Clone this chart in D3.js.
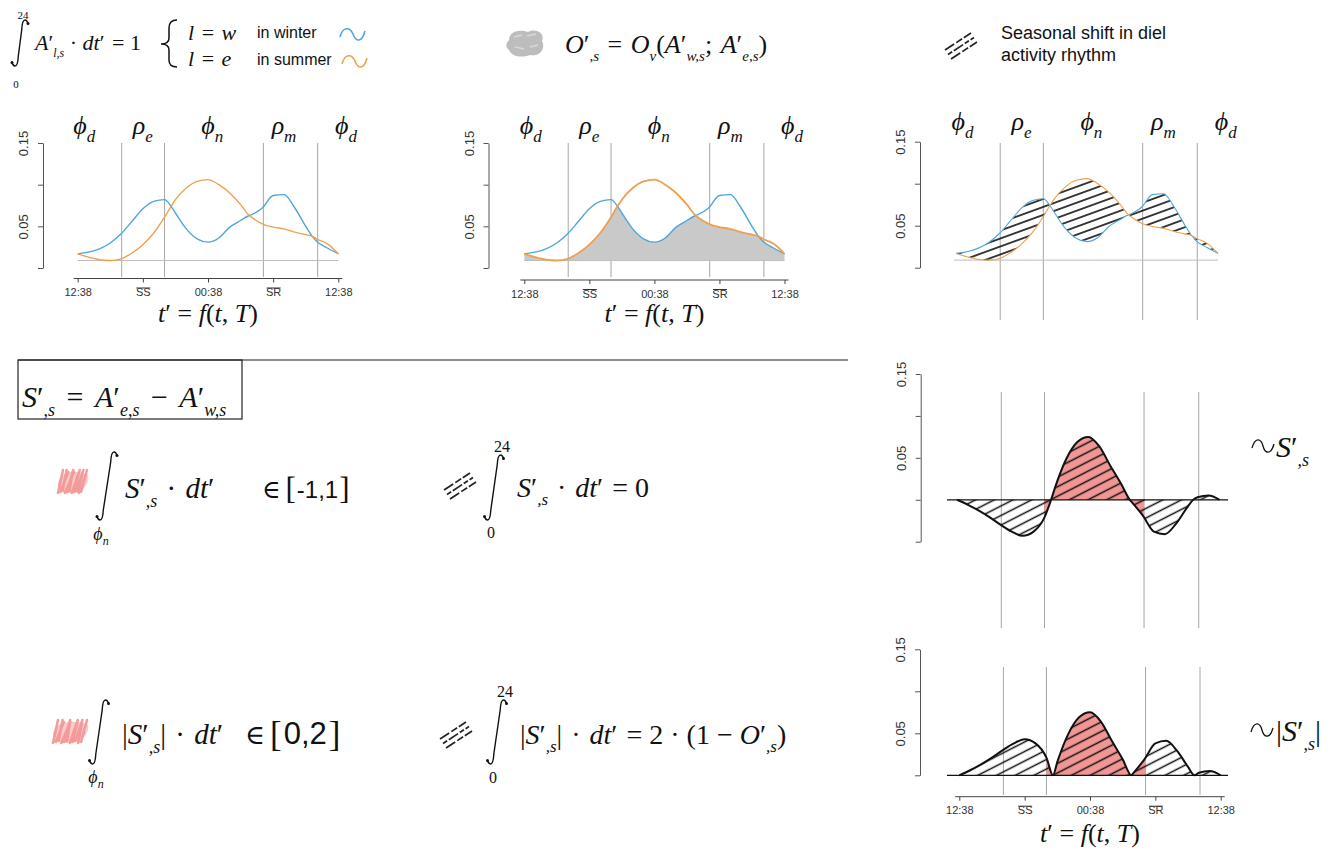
<!DOCTYPE html>
<html><head><meta charset="utf-8">
<script src="https://cdn.jsdelivr.net/npm/d3@7"></script>
<style>
html,body{margin:0;padding:0;background:#fff;}
svg{display:block;}
.math{font-family:"Liberation Serif","DejaVu Serif",serif;}
.sans{font-family:"Liberation Sans",Arial,sans-serif;}
</style></head><body>
<svg id="fig" width="1341" height="854"></svg>
<script>
// ---------------- data ----------------
const hours  = [0,1,2,3,4,5,6,7,8,8.6,9,10,11,12,13,14,15,15.8,16,17,18,19,20,21,21.6,22,23,24];
const winter = [.017,.019,.023,.030,.041,.056,.071,.080,.082,.074,.066,.047,.035,.031,.036,.049,.057,.063,.064,.072,.087,.088,.072,.050,.038,.032,.024,.017];
const summer = [.017,.013,.010,.009,.011,.018,.028,.042,.061,.074,.082,.096,.104,.106,.100,.090,.076,.063,.061,.053,.049,.047,.043,.040,.038,.035,.029,.017];
const floorLevel = 0.009;
const phaseBounds = [4.05, 8.0, 17.1, 22.1];
const phaseGlyphs = ['ϕ','ρ','ϕ','ρ','ϕ'];
const phaseSubs   = ['d','e','n','m','d'];
const phaseLabelHours = [0.6, 6.0, 12.4, 19.0, 24.7];
const xTickHours  = [0, 6, 12, 18, 24];
const xTickLabels = ['12:38','SS','00:38','SR','12:38'];
const xTickOverline = [false, true, false, true, false];
const yTicksPos   = [0, 0.05, 0.10, 0.15];
const yTicksS     = [-0.05, 0, 0.05, 0.10, 0.15];
const yLabelled   = [0.05, 0.15];

const BLUE = '#4ea6dc', ORANGE = '#efa04e', RED = '#f29595', GREY = '#c9c9c9';

const svg = d3.select('#fig');
const defs = svg.append('defs');
function hatchPattern(id, size, angle, sw) {
  const p = defs.append('pattern').attr('id', id).attr('patternUnits','userSpaceOnUse')
    .attr('width', size).attr('height', size).attr('patternTransform', `rotate(${angle})`);
  p.append('line').attr('x1',-1).attr('x2',size+1).attr('y1',size/2).attr('y2',size/2)
    .attr('stroke','#111').attr('stroke-width', sw);
}
hatchPattern('hatchTop', 7.5, -20, 1.6);
hatchPattern('hatchS', 8.5, -27, 1.5);

const pts = hours.map((h,i)=>({h, w: winter[i], s: summer[i]}));

// ---------------- math text helper ----------------
function mathText(parent, x, y, size, parts, anchor) {
  const t = parent.append('text').attr('x',x).attr('y',y).attr('class','math')
    .attr('font-size',size).attr('text-anchor', anchor||'start').attr('fill','#111');
  let cur = 0;
  parts.forEach(p => {
    let shift = 0, fs = size;
    if (p.sub) { shift = size*0.3; fs = size*0.62; }
    if (p.sup) { shift = -size*0.42; fs = size*0.62; }
    if (p.fs) fs = p.fs;
    if (p.shift !== undefined) shift = p.shift;
    const ts = t.append('tspan').text(p.t).attr('font-size', fs).attr('dy', shift-cur)
      .attr('font-style', p.i ? 'italic' : 'normal');
    if (p.dx !== undefined) ts.attr('dx', p.dx);
    if (p.sans) ts.attr('font-family','"Liberation Sans",Arial,sans-serif');
    cur = shift;
  });
  return t;
}
function integral(g, cx, top, bottom, slant) {
  const s = slant / 2;
  const p = d3.path();
  p.moveTo(cx + s + 6, top + 3.5);
  p.quadraticCurveTo(cx + s + 5, top, cx + s + 3, top);
  p.bezierCurveTo(cx + s + 0.5, top, cx + s, top + 4, cx + s - 0.3, top + 10);
  p.lineTo(cx - s + 0.3, bottom - 10);
  p.bezierCurveTo(cx - s, bottom - 4, cx - s - 0.5, bottom, cx - s - 3, bottom);
  p.quadraticCurveTo(cx - s - 5, bottom, cx - s - 6, bottom - 3.5);
  g.append('path').attr('d', p.toString()).attr('fill','none').attr('stroke','#111').attr('stroke-width',1.4);
  g.append('circle').attr('cx', cx + s + 6).attr('cy', top + 3.5).attr('r',1.5).attr('fill','#111');
  g.append('circle').attr('cx', cx - s - 6).attr('cy', bottom - 3.5).attr('r',1.5).attr('fill','#111');
}
function plain(g, x, y, txt, size) {
  g.append('text').attr('class','math').attr('x',x).attr('y',y).attr('font-size',size)
    .attr('text-anchor','middle').attr('fill','#111').text(txt);
}
function hatchIcon(g, x, y) {
  [0, 1, 2].forEach(i => {
    const ox = x + i * 3, oy = y + i * 4.5;
    g.append('line').attr('x1', ox).attr('y1', oy + 17).attr('x2', ox + 26).attr('y2', oy)
      .attr('stroke','#222').attr('stroke-width',1.7).attr('stroke-dasharray', i === 1 ? '5,2,11,2' : '11,2.5,7,2');
  });
}
const scribbleSlants = [5, 8, 4, 9, 6, 3, 8, 5, 7, 4, 6];
function scribble(g, x, y, w, h, color) {
  g.append('path').attr('d', `M${x+2},${y+h*0.45} C${x+w*0.2},${y-1} ${x+w*0.7},${y+1} ${x+w},${y+h*0.2}
      C${x+w+2},${y+h*0.6} ${x+w*0.8},${y+h+1} ${x+w*0.45},${y+h} C${x+w*0.15},${y+h+1} ${x-2},${y+h*0.8} ${x+2},${y+h*0.45} Z`)
    .attr('fill', color).attr('opacity', 0.5);
  const p = d3.path();
  const n = scribbleSlants.length;
  for (let i = 0; i < n; i++) {
    const xx = x + 1 + i * (w - 8) / (n - 1);
    p.moveTo(xx, y + h - (i % 3));
    p.lineTo(xx + scribbleSlants[i], y + (i % 2) * 2);
  }
  g.append('path').attr('d', p.toString()).attr('fill','none').attr('stroke', color)
    .attr('stroke-width', 2.6).attr('stroke-linecap','round').attr('opacity',0.9);
}
function tilde(g, x, y) {
  g.append('path').attr('d', `M${x},${y+2} C${x+3},${y-9} ${x+9},${y-8} ${x+11},${y} C${x+13},${y+8} ${x+19},${y+9} ${x+22},${y-2}`)
    .attr('fill','none').attr('stroke','#111').attr('stroke-width',1.3);
}

// ---------------- panel helper ----------------
function makePanel(o) {
  const g = svg.append('g');
  const x = d3.scaleLinear().domain([0,24]).range([o.x0, o.x1]);
  const y = d3.scaleLinear().domain(o.yDomain).range([o.yB, o.yT]);
  const ya = g.append('g').attr('transform', `translate(${o.yAxisX},0)`)
    .call(d3.axisLeft(y).tickValues(o.yTicks).tickSize(5).tickSizeOuter(0)
      .tickFormat(d => yLabelled.some(v => Math.abs(v-d) < 1e-9) ? d3.format('.2f')(d) : ''));
  ya.attr('font-family','"Liberation Sans",Arial,sans-serif').attr('font-size',13);
  ya.select('.domain').attr('stroke','#555');
  ya.selectAll('.tick line').attr('stroke','#555');
  ya.selectAll('.tick text').attr('transform','rotate(-90)').attr('x',0).attr('y',-15)
    .attr('dy',0).attr('text-anchor','middle').attr('fill','#333');
  g.selectAll('line.phase').data(phaseBounds).join('line').attr('class','phase')
    .attr('x1', d => x(d)).attr('x2', d => x(d)).attr('y1', o.vTop).attr('y2', o.vBottom)
    .attr('stroke','#a6a6a6').attr('stroke-width',1);
  if (o.phaseY) {
    phaseGlyphs.forEach((gl, i) => {
      mathText(g, x(phaseLabelHours[i]), o.phaseY, 26, [{t: gl, i:1}, {t: phaseSubs[i], i:1, sub:1, fs: 17}], 'middle');
    });
  }
  if (o.xAxisY) {
    const xa = g.append('g').attr('transform', `translate(0,${o.xAxisY})`)
      .call(d3.axisBottom(x).tickValues(xTickHours).tickSize(4).tickFormat((d,i) => xTickLabels[i]));
    xa.attr('font-family','"Liberation Sans",Arial,sans-serif').attr('font-size',11);
    xa.select('.domain').remove();
    xa.selectAll('.tick line').attr('stroke','#444');
    xa.selectAll('.tick text').attr('y', 10).attr('fill','#333');
    xa.selectAll('.tick').each(function(d, i) {
      if (xTickOverline[i]) d3.select(this).append('line').attr('x1',-7).attr('x2',7).attr('y1',9.5).attr('y2',9.5)
        .attr('stroke','#333').attr('stroke-width',1);
    });
    g.append('line').attr('x1', x(0)-4).attr('x2', x(24)+4).attr('y1', o.xAxisY).attr('y2', o.xAxisY)
      .attr('stroke','#444').attr('stroke-width',1);
    mathText(g, x(12), o.titleY, 26, [{t:'t',i:1},{t:'′'},{t:' = '},{t:'f',i:1},{t:'('},{t:'t',i:1},{t:', '},{t:'T',i:1},{t:')'}], 'middle');
  }
  return {g, x, y};
}

const lineOf = (x, y, key) => d3.line().x(d => x(d.h)).y(d => y(d[key])).curve(d3.curveMonotoneX);

// ---------- Panel A: top-left ----------
{
  const P = makePanel({x0:77.7, x1:338.3, yDomain:[0,0.15], yB:268, yT:143, yAxisX:43, yTicks:yTicksPos,
    vTop:143, vBottom:277, phaseY:134, xAxisY:278.5, titleY:322});
  P.g.append('line').attr('x1',P.x(0)).attr('x2',P.x(24)).attr('y1',P.y(floorLevel)).attr('y2',P.y(floorLevel))
    .attr('stroke','#bdbdbd').attr('stroke-width',1);
  P.g.append('path').datum(pts).attr('d', lineOf(P.x,P.y,'w')).attr('fill','none').attr('stroke',BLUE).attr('stroke-width',1.4);
  P.g.append('path').datum(pts).attr('d', lineOf(P.x,P.y,'s')).attr('fill','none').attr('stroke',ORANGE).attr('stroke-width',1.4);
}
// ---------- Panel B: top-middle (overlap) ----------
{
  const P = makePanel({x0:524.3, x1:784.5, yDomain:[0,0.15], yB:268, yT:143, yAxisX:488.5, yTicks:yTicksPos,
    vTop:143, vBottom:277, phaseY:134, xAxisY:280, titleY:322});
  const area = d3.area().x(d => P.x(d.h)).y0(P.y(floorLevel)).y1(d => P.y(Math.min(d.w, d.s))).curve(d3.curveMonotoneX);
  P.g.append('path').datum(pts).attr('d', area).attr('fill', GREY);
  P.g.append('line').attr('x1',P.x(0)).attr('x2',P.x(24)).attr('y1',P.y(floorLevel)).attr('y2',P.y(floorLevel))
    .attr('stroke','#bdbdbd').attr('stroke-width',1);
  P.g.append('path').datum(pts).attr('d', lineOf(P.x,P.y,'w')).attr('fill','none').attr('stroke',BLUE).attr('stroke-width',1.4);
  P.g.append('path').datum(pts).attr('d', lineOf(P.x,P.y,'s')).attr('fill','none').attr('stroke',ORANGE).attr('stroke-width',1.8);
}
// ---------- Panel C: top-right (shift hatch) ----------
{
  const P = makePanel({x0:956, x1:1218, yDomain:[0,0.15], yB:267.7, yT:141.7, yAxisX:920, yTicks:yTicksPos,
    vTop:143, vBottom:320, phaseY:130});
  P.g.append('line').attr('x1',P.x(0)-2).attr('x2',P.x(24)).attr('y1',P.y(floorLevel)).attr('y2',P.y(floorLevel))
    .attr('stroke','#bdbdbd').attr('stroke-width',1);
  const area = d3.area().x(d => P.x(d.h)).y0(d => P.y(d.w)).y1(d => P.y(d.s)).curve(d3.curveMonotoneX);
  P.g.append('path').datum(pts).attr('d', area).attr('fill','url(#hatchTop)');
  P.g.append('path').datum(pts).attr('d', lineOf(P.x,P.y,'w')).attr('fill','none').attr('stroke',BLUE).attr('stroke-width',1.1);
  P.g.append('path').datum(pts).attr('d', lineOf(P.x,P.y,'s')).attr('fill','none').attr('stroke',ORANGE).attr('stroke-width',1.1);
}
// ---------- Panels D/E: S and |S| ----------
function shiftPanel(o, valueFn, clipId) {
  const P = makePanel(o);
  const sp = hours.map((h,i) => ({h, v: valueFn(summer[i] - winter[i])}));
  const area = d3.area().x(d => P.x(d.h)).y0(P.y(0)).y1(d => P.y(d.v)).curve(d3.curveMonotoneX);
  const x1 = P.x(phaseBounds[1]), x2 = P.x(phaseBounds[2]);
  defs.append('clipPath').attr('id', clipId).attr('clipPathUnits','userSpaceOnUse').append('rect')
    .attr('x', x1).attr('width', x2 - x1).attr('y', o.yT - 20).attr('height', o.yB - o.yT + 40);
  P.g.append('path').datum(sp).attr('d', area).attr('fill', RED).attr('clip-path', `url(#${clipId})`);
  P.g.append('path').datum(sp).attr('d', area).attr('fill', 'url(#hatchS)');
  P.g.append('line').attr('x1', o.zx0).attr('x2', o.zx1).attr('y1', P.y(0)).attr('y2', P.y(0))
    .attr('stroke','#111').attr('stroke-width',1.3);
  P.g.append('path').datum(sp).attr('d', d3.line().x(d => P.x(d.h)).y(d => P.y(d.v)).curve(d3.curveMonotoneX))
    .attr('fill','none').attr('stroke','#111').attr('stroke-width',2);
  return P;
}
shiftPanel({x0:957, x1:1219.5, yDomain:[-0.05,0.15], yB:541.7, yT:374, yAxisX:920.7, yTicks:yTicksS,
  vTop:392, vBottom:628, zx0:947, zx1:1228}, v => v, 'clipRedShift');
shiftPanel({x0:959.3, x1:1220.7, yDomain:[0,0.15], yB:775.3, yT:649.3, yAxisX:920, yTicks:yTicksPos,
  vTop:667, vBottom:795, zx0:947, zx1:1228, xAxisY:796.7, titleY:842}, v => Math.abs(v), 'clipRedAbs');

// ---------------- annotations ----------------
const A = svg.append('g');
// top-left normalisation formula
integral(A, 20, 20, 66, 4);
plain(A, 23, 19, '24', 11);
plain(A, 16, 88, '0', 11);
mathText(A, 35, 50, 22, [{t:'A',i:1},{t:'′'},{t:'l,s',i:1,sub:1,fs:12},{t:' · '},{t:'dt',i:1},{t:'′'},{t:' = 1',dx:2}]);
A.append('path').attr('d','M177,20 Q169,20 169,28 L169,38 Q169,44 161,44 Q169,44 169,50 L169,60 Q169,67 177,67')
  .attr('fill','none').attr('stroke','#111').attr('stroke-width',1.5);
mathText(A, 188, 40, 22, [{t:'l',i:1},{t:' = ',dx:2},{t:'w',i:1,dx:2}]);
mathText(A, 188, 66, 22, [{t:'l',i:1},{t:' = ',dx:2},{t:'e',i:1,dx:2}]);
A.append('text').attr('class','sans').attr('x',257).attr('y',38).attr('font-size',16).attr('fill','#111').text('in winter');
A.append('text').attr('class','sans').attr('x',257).attr('y',65).attr('font-size',16).attr('fill','#111').text('in summer');
A.append('path').attr('d','M340,37 C343,26 350,27 353,34 C356,42 362,43 365,31').attr('fill','none').attr('stroke',BLUE).attr('stroke-width',1.6);
A.append('path').attr('d','M342,64 C345,53 352,54 355,61 C358,69 364,70 367,58').attr('fill','none').attr('stroke',ORANGE).attr('stroke-width',1.6);

// top-middle overlap formula
A.append('path').attr('d','M509,40 C509,31 520,29 528,32 C536,28 545,33 542,41 C546,48 540,57 530,55 C522,58 512,57 509,50 C505,47 506,43 509,40 Z')
  .attr('fill','#bdbdbd');
A.append('path').attr('d','M514,37 L522,35 M527,36 L536,34 M515,47 L524,49 M530,47 L538,45').attr('stroke','#d8d8d8').attr('stroke-width',1.5);
mathText(A, 565, 53, 26, [{t:'O',i:1},{t:'′'},{t:',s',i:1,sub:1,fs:15},{t:' = ',dx:2},{t:'O',i:1,dx:2},{t:'v',i:1,sub:1,fs:15},
  {t:'('},{t:'A',i:1},{t:'′'},{t:'w,s',i:1,sub:1,fs:15},{t:'; '},{t:'A',i:1,dx:2},{t:'′'},{t:'e,s',i:1,sub:1,fs:15},{t:')'}]);

// top-right legend
hatchIcon(A, 945, 33);
A.append('text').attr('class','sans').attr('x',1001).attr('y',39).attr('font-size',18).attr('fill','#111').text('Seasonal shift in diel');
A.append('text').attr('class','sans').attr('x',1001).attr('y',61).attr('font-size',18).attr('fill','#111').text('activity rhythm');

// separator and boxed definition
A.append('line').attr('x1',18).attr('x2',848).attr('y1',360).attr('y2',360).attr('stroke','#222').attr('stroke-width',1.2);
A.append('rect').attr('x',18).attr('y',360).attr('width',224).attr('height',59).attr('fill','none').attr('stroke','#222').attr('stroke-width',1.2);
mathText(A, 22, 407, 30, [{t:'S',i:1},{t:'′'},{t:',s',i:1,sub:1,fs:18},{t:' = ',dx:4},{t:'A',i:1,dx:4},{t:'′'},{t:'e,s',i:1,sub:1,fs:18},
  {t:' − ',dx:4},{t:'A',i:1,dx:4},{t:'′'},{t:'w,s',i:1,sub:1,fs:18}]);

// red equation 1
scribble(A, 57, 470, 31, 23, RED);
integral(A, 107, 452, 520, 8);
mathText(A, 101, 540, 18, [{t:'ϕ',i:1},{t:'n',i:1,sub:1,fs:12}], 'middle');
mathText(A, 125, 498, 29, [{t:'S',i:1},{t:'′'},{t:',s',i:1,sub:1,fs:18},{t:' · ',dx:2},{t:'dt',i:1,dx:2},{t:'′'}]);
mathText(A, 262, 498, 25, [{t:'∈'},{t:'[',fs:31,dx:5,shift:1},{t:'-1,1',sans:1,fs:24,dx:1,shift:-0.5},{t:']',fs:31,dx:1,shift:1}]);
// hatch equation 1
hatchIcon(A, 444, 473);
integral(A, 494, 455, 520, 7);
plain(A, 502, 452, '24', 16);
plain(A, 491, 538, '0', 16);
mathText(A, 517, 497, 28, [{t:'S',i:1},{t:'′'},{t:',s',i:1,sub:1,fs:17},{t:' · ',dx:2},{t:'dt',i:1,dx:2},{t:'′'},{t:' = 0',dx:2}]);

// red equation 2
scribble(A, 52, 720, 36, 23, RED);
integral(A, 99, 700, 764, 7);
mathText(A, 96, 783, 18, [{t:'ϕ',i:1},{t:'n',i:1,sub:1,fs:12}], 'middle');
mathText(A, 122, 744, 29, [{t:'|'},{t:'S',i:1},{t:'′'},{t:',s',i:1,sub:1,fs:18},{t:'|'},{t:' · ',dx:2},{t:'dt',i:1,dx:2},{t:'′'}]);
mathText(A, 245, 744, 27, [{t:'∈'},{t:'[',fs:35,dx:5,shift:1.5},{t:'0,2',sans:1,fs:31,dx:2,shift:0},{t:']',fs:35,dx:2,shift:1.5}]);
// hatch equation 2
hatchIcon(A, 440, 722);
integral(A, 497, 700, 764, 7);
plain(A, 505, 697, '24', 16);
plain(A, 493, 783, '0', 16);
mathText(A, 520, 744, 28, [{t:'|'},{t:'S',i:1},{t:'′'},{t:',s',i:1,sub:1,fs:17},{t:'|'},{t:' · ',dx:2},{t:'dt',i:1,dx:2},{t:'′'},{t:' = 2 · (1 − ',dx:2},
  {t:'O',i:1},{t:'′'},{t:',s',i:1,sub:1,fs:17},{t:')'}]);

// right-hand labels
tilde(A, 1252, 446);
mathText(A, 1276, 457, 30, [{t:'S',i:1},{t:'′'},{t:',s',i:1,sub:1,fs:18}]);
tilde(A, 1251, 730);
mathText(A, 1276, 741, 30, [{t:'|'},{t:'S',i:1},{t:'′'},{t:',s',i:1,sub:1,fs:18},{t:'|'}]);
</script>
</body></html>
